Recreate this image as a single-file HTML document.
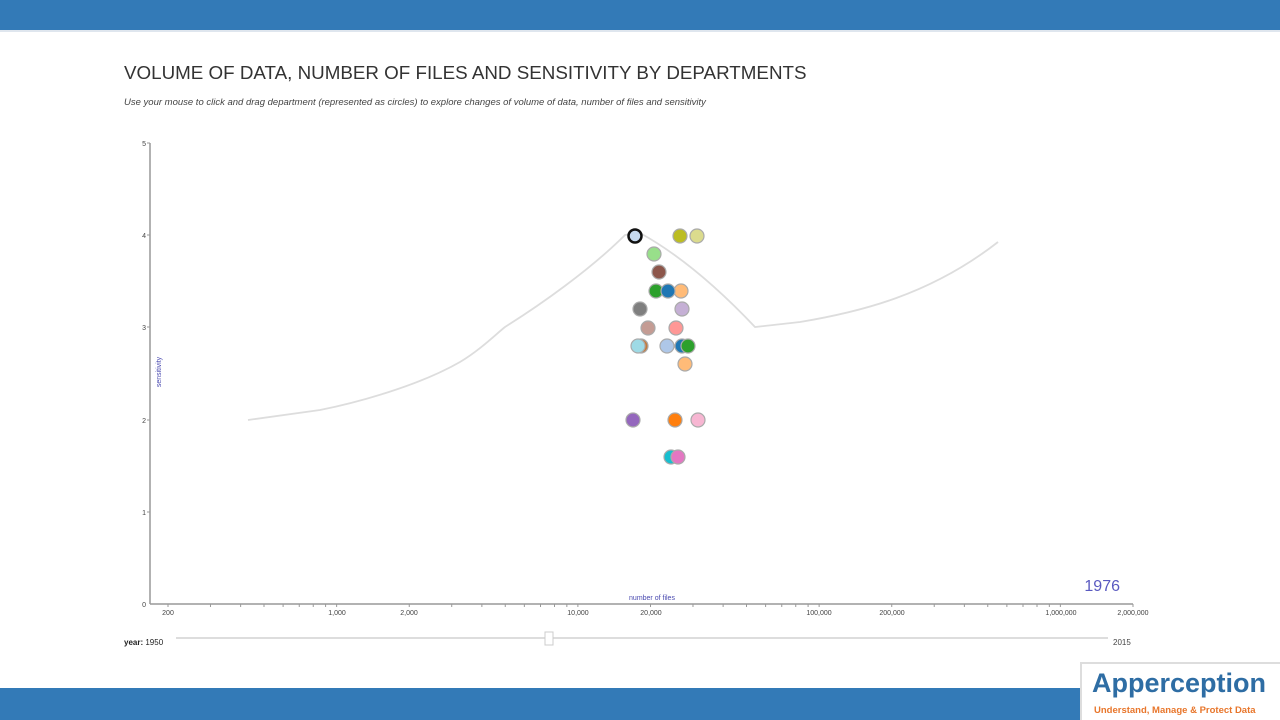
<!DOCTYPE html>
<html><head><meta charset="utf-8"><style>
body{margin:0;width:1280px;height:720px;background:#fff;overflow:hidden;position:relative;font-family:"Liberation Sans",sans-serif}
.top{position:absolute;left:0;top:0;width:1280px;height:30px;background:#337ab7;border-bottom:2px solid #dfe6ee}
.bot{position:absolute;left:0;top:688px;width:1280px;height:32px;background:#337ab7}
.logo{position:absolute;left:1080px;top:662px;width:200px;height:58px;background:#fff;border-left:2px solid #ddd;border-top:2px solid #ddd;box-sizing:border-box}
.logo .a{position:absolute;left:10px;top:4px;font-size:27px;font-weight:bold;color:#2e6da4}
.logo .b{position:absolute;left:12px;top:41px;font-size:9.5px;font-weight:bold;color:#e8762b}
</style></head><body>
<div class="top"></div>
<div class="bot"></div>
<svg width="1280" height="720" style="position:absolute;left:0;top:0" font-family="Liberation Sans, sans-serif">
<text x="124" y="79" font-size="18.8" fill="#333">VOLUME OF DATA, NUMBER OF FILES AND SENSITIVITY BY DEPARTMENTS</text>
<text x="124" y="105" font-size="9.5" font-style="italic" fill="#444">Use your mouse to click and drag department (represented as circles) to explore changes of volume of data, number of files and sensitivity</text>
<g stroke="#999" stroke-width="1.5" fill="none">
<line x1="150" y1="143" x2="150" y2="604"/>
<line x1="150" y1="604" x2="1133" y2="604"/>
</g>
<g font-size="7" fill="#444" text-anchor="end">
<text x="146" y="146">5</text><text x="146" y="238">4</text><text x="146" y="330">3</text><text x="146" y="423">2</text><text x="146" y="515">1</text><text x="146" y="607">0</text>
</g>
<g stroke="#999"><line x1="147" y1="143" x2="150" y2="143"/><line x1="147" y1="235" x2="150" y2="235"/><line x1="147" y1="327" x2="150" y2="327"/><line x1="147" y1="420" x2="150" y2="420"/><line x1="147" y1="512" x2="150" y2="512"/></g>
<g id="xt" stroke="#999"></g>
<g font-size="7" fill="#444" text-anchor="middle">
<text x="168" y="615">200</text><text x="337" y="615">1,000</text><text x="409" y="615">2,000</text><text x="578" y="615">10,000</text><text x="651" y="615">20,000</text><text x="819" y="615">100,000</text><text x="892" y="615">200,000</text><text x="1061" y="615">1,000,000</text><text x="1133" y="615">2,000,000</text>
</g>
<text x="652" y="600" font-size="7" fill="#4a4ab0" text-anchor="middle">number of files</text>
<text x="0" y="0" font-size="7" fill="#4a4ab0" text-anchor="middle" transform="translate(161,372) rotate(-90)">sensitivity</text>
<text x="1120" y="591" font-size="16" fill="#5a5ac0" text-anchor="end">1976</text>
<path d="M248,420 L320,410 C360,402 420,385 460,362 C480,350 495,335 505,327 C540,305 590,270 625,235 L640,233 C680,255 720,290 755,327 L800,322 C860,312 930,295 998,242" fill="none" stroke="#ddd" stroke-width="1.8"/>
<g stroke-width="1.2">
<circle cx="680" cy="236" r="7" fill="#bcbd22" stroke="#aaa"/>
<circle cx="697" cy="236" r="7" fill="#dbdb8d" stroke="#aaa"/>
<circle cx="654" cy="254" r="7" fill="#98df8a" stroke="#aaa"/>
<circle cx="659" cy="272" r="7" fill="#8c564b" stroke="#aaa"/>
<circle cx="681" cy="291" r="7" fill="#ffbb78" stroke="#aaa"/>
<circle cx="656" cy="291" r="7" fill="#2ca02c" stroke="#aaa"/>
<circle cx="668" cy="291" r="7" fill="#1f77b4" stroke="#aaa"/>
<circle cx="640" cy="309" r="7" fill="#7f7f7f" stroke="#aaa"/>
<circle cx="682" cy="309" r="7" fill="#c5b0d5" stroke="#aaa"/>
<circle cx="648" cy="328" r="7" fill="#c49c94" stroke="#aaa"/>
<circle cx="676" cy="328" r="7" fill="#ff9896" stroke="#aaa"/>
<circle cx="641" cy="346" r="7" fill="#c47a3a" stroke="#aaa"/>
<circle cx="638" cy="346" r="7" fill="#9edae5" stroke="#aaa"/>
<circle cx="667" cy="346" r="7" fill="#aec7e8" stroke="#aaa"/>
<circle cx="682" cy="346" r="7" fill="#1f77b4" stroke="#aaa"/>
<circle cx="688" cy="346" r="7" fill="#2ca02c" stroke="#aaa"/>
<circle cx="685" cy="364" r="7" fill="#ffbb78" stroke="#aaa"/>
<circle cx="633" cy="420" r="7" fill="#9467bd" stroke="#aaa"/>
<circle cx="675" cy="420" r="7" fill="#ff7f0e" stroke="#aaa"/>
<circle cx="698" cy="420" r="7" fill="#f7b6d2" stroke="#aaa"/>
<circle cx="671" cy="457" r="7" fill="#17becf" stroke="#aaa"/>
<circle cx="678" cy="457" r="7" fill="#e377c2" stroke="#aaa"/>
<circle cx="635" cy="236" r="6.5" fill="#c6d9ee" stroke="#111" stroke-width="2.5"/>
</g>
<text x="124" y="645" font-size="8" fill="#222"><tspan font-weight="bold">year:</tspan> 1950</text>
<line x1="176" y1="638" x2="1108" y2="638" stroke="#ddd" stroke-width="2"/>
<rect x="545" y="632" width="8" height="13" fill="#fff" stroke="#ccc"/>
<text x="1113" y="645" font-size="8" fill="#444">2015</text>
</svg>
<div class="logo"><div class="a">Apperception</div><div class="b">Understand, Manage &amp; Protect Data</div></div>
<script>
var g=document.getElementById('xt'),s='';
for(var d=2;d<7;d++)for(var m=1;m<10;m++){var v=m*Math.pow(10,d);if(v<200||v>2000000)continue;var x=168+Math.log10(v/200)*241.25;s+='<line x1="'+x+'" y1="604" x2="'+x+'" y2="607"/>';}
g.innerHTML=s;
</script>
</body></html>
